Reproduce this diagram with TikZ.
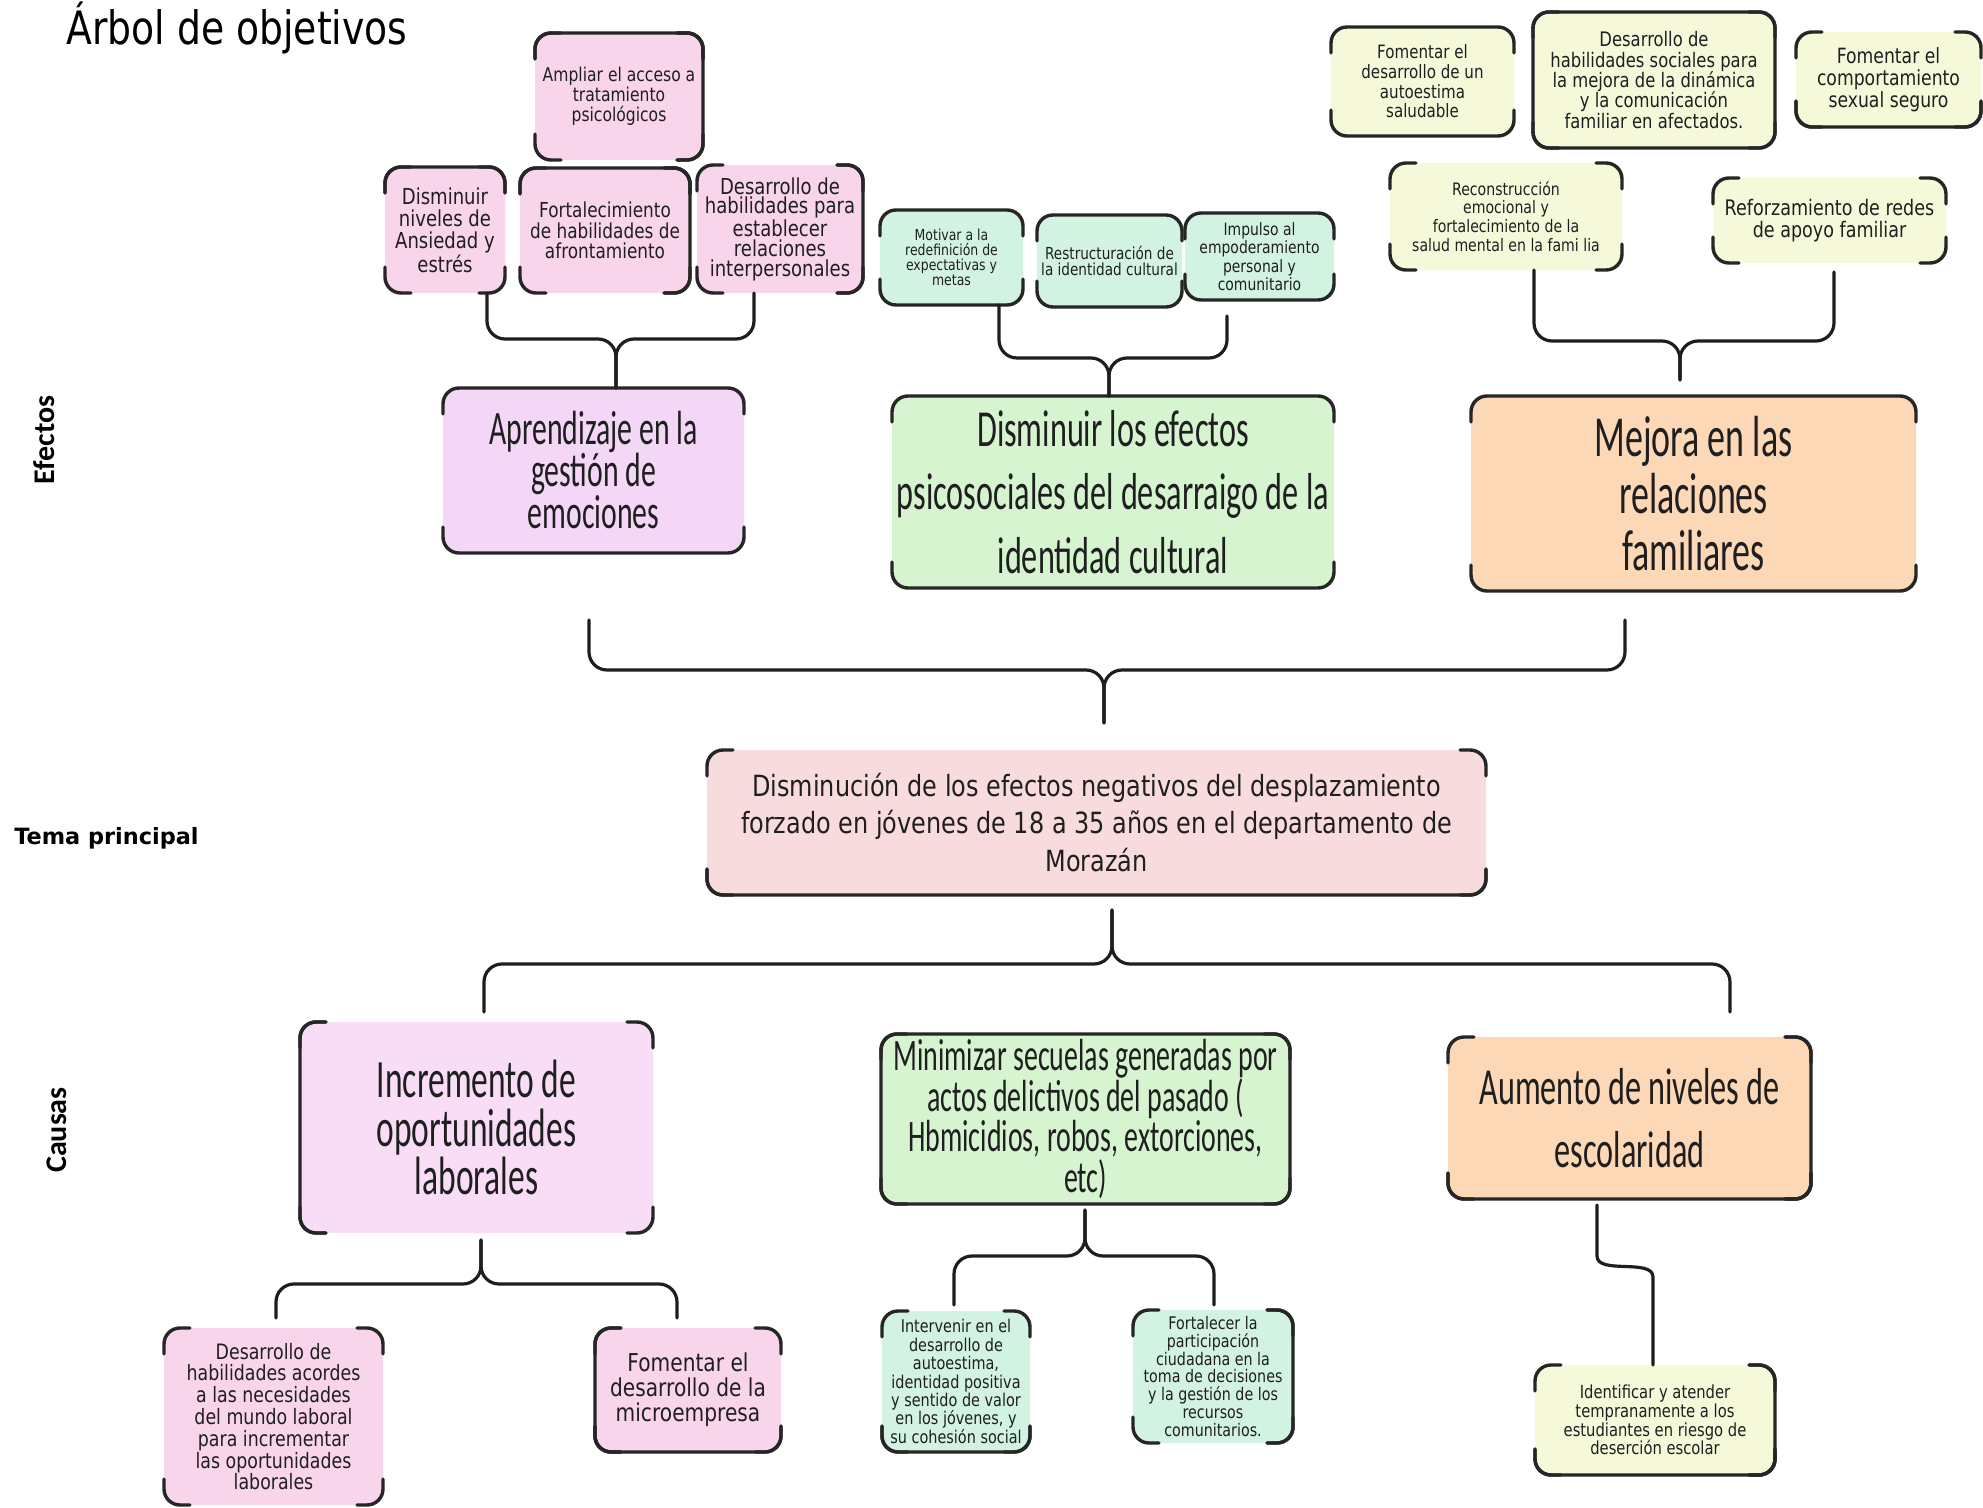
\documentclass[tikz,border=0pt]{standalone}
\usepackage{fontspec}
\setmainfont{DejaVu Sans}
\newfontfamily\tah[FakeStretch=0.82]{DejaVu Sans}
\newfontfamily\cnd[FakeStretch=0.62]{Carlito}
\newfontfamily\carl{Carlito}
\newfontfamily\dvs{DejaVu Sans}
\newcommand\fz[2]{\fontsize{#1}{#2}\selectfont}
\definecolor{pkS}{HTML}{F9D5EB}
\definecolor{lav}{HTML}{F4D6F7}
\definecolor{pkI}{HTML}{F9DCF6}
\definecolor{mint}{HTML}{D2F3E2}
\definecolor{grn}{HTML}{D5F4CF}
\definecolor{org}{HTML}{FCD8B6}
\definecolor{yel}{HTML}{F5F9D9}
\definecolor{mainc}{HTML}{F8DCDD}
\definecolor{bordc}{HTML}{262626}
\definecolor{connc}{HTML}{1E1E1E}
\tikzset{
  box/.style={rounded corners=8pt, inner sep=0pt, outer sep=0pt, align=center, text=black!88},
  brd/.style={draw=bordc, line width=1.7pt, rounded corners=8pt, line cap=round},
  conn/.style={draw=connc, line width=1.6pt, rounded corners=9pt, line cap=round},
  lbl/.style={inner sep=0pt, text=black},
}
\newcommand\bx[8]{\node[box, fill=#6, font={#7}, minimum width={(#4-#2)*0.5pt}, minimum height={(#5-#3)*0.5pt}] (#1) at ({(#2+#4)/2},{(#3+#5)/2}) {#8};}
\newcommand\cTL[1]{\draw[brd] ([yshift=-13pt]#1.north west) -- (#1.north west) -- ([xshift=13pt]#1.north west);}
\newcommand\cTR[1]{\draw[brd] ([yshift=-13pt]#1.north east) -- (#1.north east) -- ([xshift=-13pt]#1.north east);}
\newcommand\cBL[1]{\draw[brd] ([yshift=13pt]#1.south west) -- (#1.south west) -- ([xshift=13pt]#1.south west);}
\newcommand\cBR[1]{\draw[brd] ([yshift=13pt]#1.south east) -- (#1.south east) -- ([xshift=-13pt]#1.south east);}
\newcommand\cAll[1]{\cTL{#1}\cTR{#1}\cBL{#1}\cBR{#1}}
\newcommand\sT[1]{\draw[brd] ([yshift=-13pt]#1.north west) -- (#1.north west) -- (#1.north east) -- ([yshift=-13pt]#1.north east);}
\newcommand\sB[1]{\draw[brd] ([yshift=13pt]#1.south west) -- (#1.south west) -- (#1.south east) -- ([yshift=13pt]#1.south east);}
\newcommand\sL[1]{\draw[brd] ([xshift=13pt]#1.north west) -- (#1.north west) -- (#1.south west) -- ([xshift=13pt]#1.south west);}
\newcommand\sR[1]{\draw[brd] ([xshift=-13pt]#1.north east) -- (#1.north east) -- (#1.south east) -- ([xshift=-13pt]#1.south east);}
\begin{document}
\begin{tikzpicture}[x=0.5pt,y=-0.5pt]
\fill[white] (0,0) rectangle (1983,1508);
\useasboundingbox (0,0) rectangle (1983,1508);

% labels
\node[lbl, font={\fz{23}{23}\tah}, anchor=base west] (tit) at (66,45) {Árbol de objetivos};
\node[lbl, font={\fz{15}{15}\carl\bfseries}, rotate=90] (lef) at (44,440) {Efectos};
\node[lbl, font={\fz{11.2}{12}\dvs\bfseries}, anchor=west] (ltp) at (14,838) {Tema principal};
\node[lbl, font={\fz{15}{15}\carl\bfseries}, rotate=90] (lca) at (57,1130) {Causas};

% effects, top-left
\bx{amp}{535}{33}{703}{160}{pkS}{\fz{9.5}{10}\tah}{Ampliar el acceso a\\tratamiento\\psicológicos}
\bx{dis}{385}{167}{505}{293}{pkS}{\fz{11}{11}\tah}{Disminuir\\niveles de\\Ansiedad y\\estrés}
\bx{fort}{520}{168}{690}{293}{pkS}{\fz{10.3}{10.4}\tah}{Fortalecimiento\\de habilidades de\\afrontamiento}
\bx{desi}{697}{165}{863}{293}{pkS}{\fz{11}{9.8}\tah}{Desarrollo de\\habilidades para\\establecer\\relaciones\\interpersonales}
\bx{apr}{443}{388}{744}{553}{lav}{\fz{24}{21}\cnd}{Aprendizaje en la\\gestión de\\emociones}

% effects, middle
\bx{mot}{880}{210}{1023}{305}{mint}{\fz{7.6}{7.6}\tah}{Motivar a la\\redefinición de\\expectativas y\\metas}
\bx{rest}{1037}{215}{1182}{307}{mint}{\fz{8.3}{7.8}\tah}{Restructuración de\\la identidad cultural}
\bx{imp}{1185}{213}{1334}{300}{mint}{\fz{8.5}{7.8}\tah}{Impulso al\\empoderamiento\\personal y\\comunitario}
\bx{dge}{892}{396}{1334}{588}{grn}{\fz{26}{31.6}\cnd}{Disminuir los efectos\\psicosociales del desarraigo de la\\identidad cultural}

% effects, right
\bx{fae}{1331}{27}{1514}{136}{yel}{\fz{9.2}{9.8}\tah}{Fomentar el\\desarrollo de un\\autoestima\\saludable}
\bx{dsoc}{1533}{12}{1775}{148}{yel}{\fz{10}{10.2}\tah}{Desarrollo de\\habilidades sociales para\\la mejora de la dinámica\\y la comunicación\\familiar en afectados.}
\bx{fsex}{1796}{32}{1981}{127}{yel}{\fz{10.5}{11}\tah}{Fomentar el\\comportamiento\\sexual seguro}
\bx{rec}{1390}{163}{1622}{270}{yel}{\fz{8.6}{9.3}\tah}{Reconstrucción\\emocional y\\fortalecimiento de la\\salud mental en la fami lia}
\bx{ref}{1713}{178}{1946}{263}{yel}{\fz{10.7}{11.4}\tah}{Reforzamiento de redes\\de apoyo familiar}
\bx{mej}{1471}{396}{1916}{591}{org}{\fz{29}{28.5}\cnd}{Mejora en las\\relaciones\\familiares}

% main
\bx{main}{707}{750}{1486}{895}{mainc}{\fz{14.6}{18.6}\tah}{Disminución de los efectos negativos del desplazamiento\\forzado en jóvenes de 18 a 35 años en el departamento de\\Morazán}

% causes
\bx{inc}{300}{1022}{653}{1233}{pkI}{\fz{27}{24.2}\cnd}{Incremento de\\oportunidades\\laborales}
\bx{min}{881}{1034}{1290}{1204}{grn}{\fz{22.5}{20.4}\cnd}{Minimizar secuelas generadas por\\actos delictivos del pasado (\\Hbmicidios, robos, extorciones,\\etc)}
\bx{aum}{1448}{1037}{1811}{1199}{org}{\fz{26}{31.6}\cnd}{Aumento de niveles de\\escolaridad}

\bx{dha}{164}{1328}{383}{1505}{pkS}{\fz{10.6}{10.9}\tah}{Desarrollo de\\habilidades acordes\\a las necesidades\\del mundo laboral\\para incrementar\\las oportunidades\\laborales}
\bx{fmi}{595}{1328}{781}{1452}{pkS}{\fz{12.3}{12.6}\tah}{Fomentar el\\desarrollo de la\\microempresa}
\bx{int}{882}{1311}{1030}{1452}{mint}{\fz{8.8}{9.2}\tah}{Intervenir en el\\desarrollo de\\autoestima,\\identidad positiva\\y sentido de valor\\en los jóvenes, y\\su cohesión social}
\bx{fpc}{1133}{1310}{1293}{1443}{mint}{\fz{8.7}{8.9}\tah}{Fortalecer la\\participación\\ciudadana en la\\toma de decisiones\\y la gestión de los\\recursos\\comunitarios.}
\bx{ide}{1535}{1365}{1775}{1475}{yel}{\fz{9}{9.3}\tah}{Identificar y atender\\tempranamente a los\\estudiantes en riesgo de\\deserción escolar}

% borders
\cAll{amp}\sT{amp}\sR{amp}
\cAll{dis}\sT{dis}
\cAll{fort}\sT{fort}\sR{fort}
\cAll{desi}\sR{desi}
\sT{mot}\sB{mot}
\sT{rest}\sB{rest}
\sT{imp}\sB{imp}
\sT{apr}\sB{apr}
\sT{dge}\sB{dge}
\sT{mej}\sB{mej}
\sT{fae}\sB{fae}
\sT{dsoc}\sB{dsoc}\sL{dsoc}\sR{dsoc}
\cAll{fsex}\sB{fsex}
\cAll{rec}
\cAll{ref}
\cAll{main}\sB{main}
\cAll{inc}\sL{inc}
\sT{min}\sB{min}\sL{min}\sR{min}
\cAll{aum}\sB{aum}\sR{aum}
\cAll{dha}
\cAll{fmi}\sL{fmi}\sB{fmi}
\cAll{int}\sB{int}
\cAll{fpc}\sR{fpc}
\cAll{ide}\sR{ide}\sB{ide}

% connectors
\coordinate (b1l) at (487,293); \coordinate (b1r) at (754,293); \coordinate (b1m) at (616,339);
\draw[conn] (b1l) |- (b1m) -- (b1m |- apr.north);
\draw[conn] (b1r) |- (b1m) -- (b1m |- apr.north);

\coordinate (b2l) at (999,305); \coordinate (b2r) at (1227,316); \coordinate (b2m) at (1109,358);
\draw[conn] (b2l) |- (b2m) -- (b2m |- dge.north);
\draw[conn] (b2r) |- (b2m) -- (b2m |- dge.north);

\coordinate (b3l) at (1534,270); \coordinate (b3r) at (1834,272); \coordinate (b3m) at (1680,341); \coordinate (b3e) at (1680,380);
\draw[conn] (b3l) |- (b3m) -- (b3e);
\draw[conn] (b3r) |- (b3m) -- (b3e);

\coordinate (b4l) at (589,620); \coordinate (b4r) at (1625,620); \coordinate (b4m) at (1104,670); \coordinate (b4e) at (1104,723);
\draw[conn] (b4l) |- (b4m) -- (b4e);
\draw[conn] (b4r) |- (b4m) -- (b4e);

\coordinate (b5s) at (1112,910); \coordinate (b5m) at (1112,964); \coordinate (b5l) at (484,1012); \coordinate (b5r) at (1730,1012);
\draw[conn] (b5l) |- (b5m) -- (b5s);
\draw[conn] (b5r) |- (b5m) -- (b5s);

\coordinate (b6s) at (481,1240); \coordinate (b6m) at (481,1284); \coordinate (b6l) at (276,1318); \coordinate (b6r) at (677,1318);
\draw[conn] (b6l) |- (b6m) -- (b6s);
\draw[conn] (b6r) |- (b6m) -- (b6s);

\coordinate (b7s) at (1085,1210); \coordinate (b7m) at (1085,1256); \coordinate (b7l) at (954,1305); \coordinate (b7r) at (1214,1305);
\draw[conn] (b7l) |- (b7m) -- (b7s);
\draw[conn] (b7r) |- (b7m) -- (b7s);

\coordinate (b8a) at (1597,1205); \coordinate (b8b) at (1597,1238); \coordinate (b8c) at (1653,1295);
\draw[conn] (b8a) -- (b8b) .. controls (1597,1275) and (1653,1258) .. (b8c) -- (b8c |- ide.north);
\end{tikzpicture}
\end{document}
